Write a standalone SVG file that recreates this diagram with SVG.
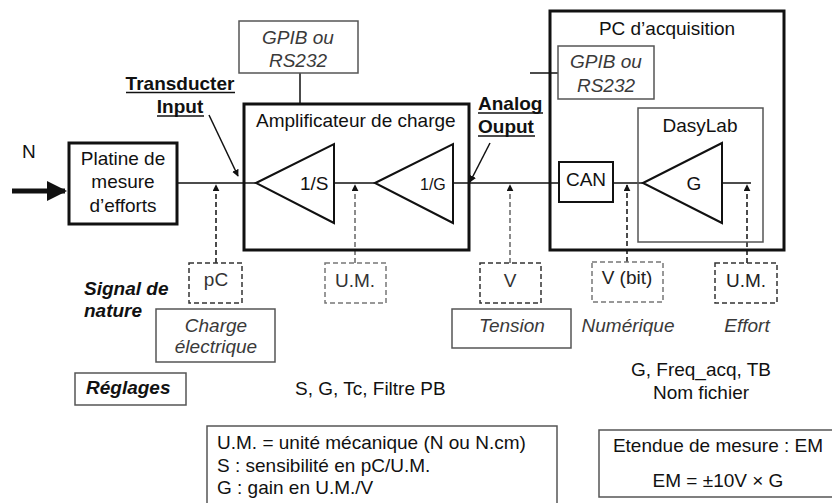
<svg xmlns="http://www.w3.org/2000/svg" width="832" height="503" viewBox="0 0 832 503">
<defs>
<style>
text{font-family:"Liberation Sans",Arial,sans-serif;font-size:19px;fill:#111}
.c{text-anchor:middle}
.i{font-style:italic}
.gi{font-style:italic;fill:#3a3a3a}
.b{font-weight:bold}
.thick{fill:none;stroke:#111;stroke-width:3}
.med{fill:none;stroke:#111;stroke-width:2}
.grey{fill:none;stroke:#555;stroke-width:1.5}
.dbox{fill:none;stroke:#333;stroke-width:1.5;stroke-dasharray:5 3}
.dboxl{fill:none;stroke:#777;stroke-width:1.5;stroke-dasharray:5 3}
.wire{fill:none;stroke:#111;stroke-width:1.5}
.dash{fill:none;stroke:#111;stroke-width:1.5;stroke-dasharray:5 3}
.dashl{fill:none;stroke:#666;stroke-width:1.5;stroke-dasharray:5 3}
</style>
<marker id="ah" viewBox="0 0 10 10" refX="9" refY="5" markerWidth="7" markerHeight="7" orient="auto" markerUnits="userSpaceOnUse">
<path d="M0,0 L10,5 L0,10 z" fill="#111"/>
</marker>
<marker id="big" viewBox="0 0 10 10" refX="9" refY="5" markerWidth="4" markerHeight="4" orient="auto">
<path d="M0,0 L10,5 L0,10 z" fill="#111"/>
</marker>
</defs>

<g id="connectors">
<line x1="12" y1="191" x2="65" y2="191" stroke="#111" stroke-width="5" marker-end="url(#big)"/>
<line class="wire" x1="177" y1="183" x2="256" y2="183"/>
<line class="wire" x1="334" y1="183" x2="375" y2="183"/>
<line class="wire" x1="453" y1="183" x2="559" y2="183"/>
<line class="wire" x1="613" y1="183" x2="643" y2="183"/>
<line class="wire" x1="722" y1="183" x2="751" y2="183"/>
<line class="wire" x1="300" y1="73" x2="300" y2="104"/>
<line class="wire" x1="530" y1="73" x2="558" y2="73"/>
<line class="wire" x1="209" y1="115" x2="238" y2="176" marker-end="url(#ah)"/>
<line class="wire" x1="490" y1="143" x2="470" y2="182" marker-end="url(#ah)"/>
<line class="dash" x1="216" y1="263" x2="216" y2="185" marker-end="url(#ah)"/>
<line class="dashl" x1="355" y1="263" x2="355" y2="185" marker-end="url(#ah)"/>
<line class="dashl" x1="510" y1="263" x2="510" y2="185" marker-end="url(#ah)"/>
<line class="dash" x1="627" y1="262" x2="627" y2="185" marker-end="url(#ah)"/>
<line class="dash" x1="747" y1="263" x2="747" y2="185" marker-end="url(#ah)"/>
</g>

<g id="input-N"><text x="22" y="158">N</text></g>

<g id="platine">
<rect class="thick" x="69" y="143" width="108" height="81" stroke-width="2.5"/>
<text class="c" x="123" y="165">Platine de</text>
<text class="c" x="123" y="188">mesure</text>
<text class="c" x="123" y="212">d’efforts</text>
</g>

<g id="transducter-input">
<text class="c b" x="180" y="90">Transducter</text>
<line x1="126" y1="92.5" x2="235" y2="92.5" stroke="#111" stroke-width="1.5"/>
<text class="c b" x="180" y="113">Input</text>
<line x1="157" y1="116" x2="204" y2="116" stroke="#111" stroke-width="1.5"/>
</g>

<g id="gpib1">
<rect class="grey" x="239" y="21" width="119" height="52"/>
<text class="c gi" x="298" y="44">GPIB ou</text>
<text class="c gi" x="298" y="67">RS232</text>
</g>

<g id="amplificateur">
<rect class="thick" x="244" y="104" width="225" height="146"/>
<text x="256" y="127">Amplificateur de charge</text>
</g>

<g id="tri-1S">
<polygon class="med" points="256,183 334,144 334,223"/>
<text x="300" y="190">1/S</text>
</g>

<g id="tri-1G">
<polygon class="med" points="375,183 453,144 453,223"/>
<text x="420" y="190" style="font-size:16px">1/G</text>
</g>

<g id="analog-output">
<text class="b" x="478" y="110">Analog</text>
<line x1="478" y1="113" x2="543" y2="113" stroke="#111" stroke-width="1.5"/>
<text class="b" x="478" y="133">Ouput</text>
<line x1="478" y1="136" x2="535" y2="136" stroke="#111" stroke-width="1.5"/>
</g>

<g id="pc">
<rect class="thick" x="550" y="11" width="234" height="239"/>
<text class="c" x="667" y="35">PC d’acquisition</text>
</g>

<g id="gpib2">
<rect class="grey" x="558" y="46" width="96" height="53"/>
<text class="c gi" x="606" y="68">GPIB ou</text>
<text class="c gi" x="606" y="92">RS232</text>
</g>

<g id="dasylab">
<rect class="grey" x="638" y="108" width="125" height="134"/>
<text class="c" x="700" y="132">DasyLab</text>
</g>

<g id="can">
<rect class="med" x="559" y="162" width="54" height="40"/>
<text class="c" x="586" y="186">CAN</text>
</g>

<g id="tri-G">
<polygon class="med" points="643,183 722,143 722,223"/>
<text class="c" x="694" y="190">G</text>
</g>

<g id="sig-pC">
<rect class="dbox" x="189" y="263" width="53" height="40"/>
<text class="c" x="216" y="286" fill="#333" style="fill:#333">pC</text>
</g>
<g id="sig-UM1">
<rect class="dboxl" x="325" y="263" width="61" height="40"/>
<text class="c" x="355" y="287" style="fill:#333">U.M.</text>
</g>
<g id="sig-V">
<rect class="dbox" x="480" y="263" width="61" height="40"/>
<text class="c" x="510" y="287" style="fill:#333">V</text>
</g>
<g id="sig-Vbit">
<rect class="dboxl" x="592" y="262" width="71" height="40"/>
<text class="c" x="627" y="284" style="fill:#222">V (bit)</text>
</g>
<g id="sig-UM2">
<rect class="dbox" x="715" y="263" width="62" height="40"/>
<text class="c" x="746" y="287" style="fill:#222">U.M.</text>
</g>

<g id="signal-de-nature">
<text class="b i" x="84" y="295">Signal de</text>
<text class="b i" x="84" y="317">nature</text>
</g>

<g id="charge-electrique">
<rect class="grey" x="156" y="309" width="119" height="53"/>
<text class="c gi" x="216" y="332">Charge</text>
<text class="c gi" x="216" y="353">électrique</text>
</g>

<g id="tension">
<rect class="grey" x="452" y="309" width="119" height="39"/>
<text class="c gi" x="512" y="332">Tension</text>
</g>

<g id="numerique"><text class="c gi" x="628" y="332">Numérique</text></g>
<g id="effort"><text class="c gi" x="747" y="332">Effort</text></g>

<g id="reglages">
<rect class="grey" x="75" y="373" width="111" height="32"/>
<text class="b i" x="86" y="394">Réglages</text>
</g>

<g id="reglages-amp"><text x="295" y="395">S, G, Tc, Filtre PB</text></g>
<g id="reglages-pc">
<text class="c" x="701" y="376">G, Freq_acq, TB</text>
<text class="c" x="701" y="399">Nom fichier</text>
</g>

<g id="legende">
<rect class="grey" x="207" y="426" width="350" height="90" stroke="#444"/>
<text x="217" y="449">U.M. = unité mécanique (N ou N.cm)</text>
<text x="217" y="472">S : sensibilité en pC/U.M.</text>
<text x="217" y="494">G : gain en U.M./V</text>
</g>

<g id="etendue">
<rect class="grey" x="599" y="430" width="240" height="67" stroke="#444"/>
<text class="c" x="718" y="452">Etendue de mesure : EM</text>
<text class="c" x="718" y="487">EM = ±10V × G</text>
</g>
</svg>
